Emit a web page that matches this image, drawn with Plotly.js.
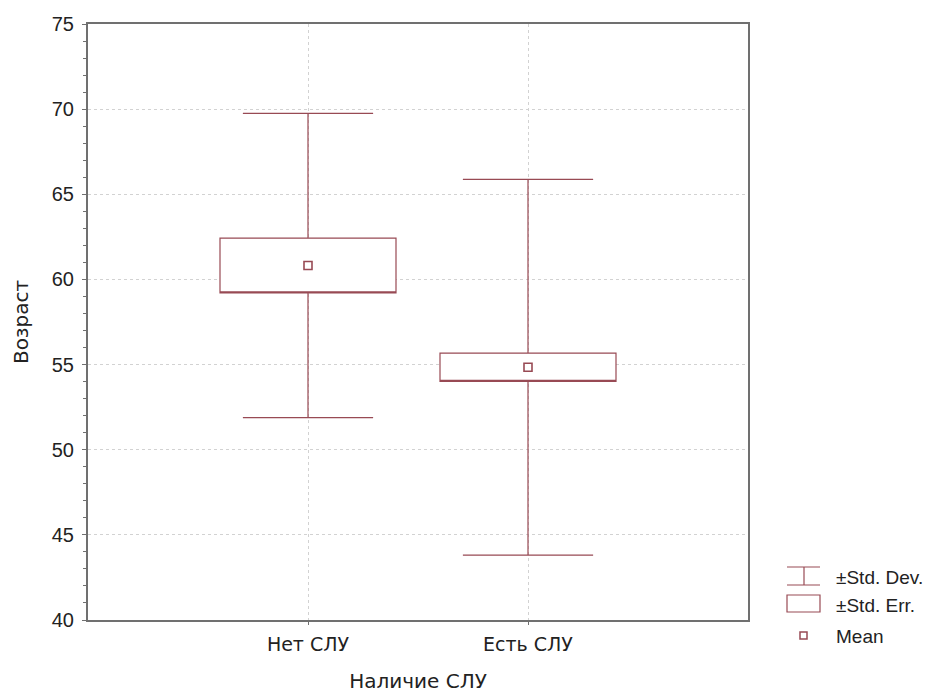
<!DOCTYPE html>
<html>
<head>
<meta charset="utf-8">
<script src="https://cdn.plot.ly/plotly-3.0.1.min.js"></script>
<style>html,body{margin:0;padding:0;background:#fff;}#chart{width:930px;height:693px;}</style>
</head>
<body>
<div id="chart"></div>
<script>
const categories = ["Нет СЛУ", "Есть СЛУ"];
const means = [60.82, 54.84];
const stdErr = [1.61, 0.83];
const stdDev = [8.93, 11.03];
const legendLabels = ["±Std. Dev.", "±Std. Err.", "Mean"];

const col = "#984a54";
const xs = categories.map((c, i) => i);
const q1 = means.map((m, i) => m - stdErr[i]);
const q3 = means.map((m, i) => m + stdErr[i]);
const lo = means.map((m, i) => m - stdDev[i]);
const hi = means.map((m, i) => m + stdDev[i]);

const FONT = "Liberation Sans, Arial, sans-serif";
const CYR = "DejaVu Sans, Liberation Sans, sans-serif";

const traces = [
  {
    type: "box",
    x: xs,
    q1: q1, median: q1, q3: q3,
    lowerfence: lo, upperfence: hi,
    width: 0.8,
    whiskerwidth: 0.74,
    fillcolor: "#ffffff",
    line: {color: col, width: 1.2},
    boxpoints: false,
    hoverinfo: "skip",
    showlegend: false
  },
  {
    type: "scatter",
    mode: "markers",
    x: xs,
    y: means,
    marker: {symbol: "square-open", size: 8, color: col, line: {width: 1.6, color: col}},
    hoverinfo: "skip",
    showlegend: false
  }
];

// plot area in pixels
const L = 88, R = 748, T = 24, B = 620;
const W = 930, H = 693;
const px = v => (v - L) / (R - L);
const py = v => (B - v) / (B - T);

const shapes = [
  // Std. Dev. icon
  {type: "line", xref: "paper", yref: "paper", x0: px(787), x1: px(820), y0: py(567), y1: py(567), line: {color: col, width: 1.2}},
  {type: "line", xref: "paper", yref: "paper", x0: px(787), x1: px(820), y0: py(585), y1: py(585), line: {color: col, width: 1.2}},
  {type: "line", xref: "paper", yref: "paper", x0: px(804), x1: px(804), y0: py(567), y1: py(585), line: {color: col, width: 1.2}},
  // Std. Err. icon
  {type: "rect", xref: "paper", yref: "paper", x0: px(787), x1: px(820), y0: py(595), y1: py(612), line: {color: col, width: 1.2}, fillcolor: "rgba(0,0,0,0)"},
  // Mean icon
  {type: "rect", xref: "paper", yref: "paper", x0: px(800), x1: px(807), y0: py(632), y1: py(639), line: {color: col, width: 1.5}, fillcolor: "rgba(0,0,0,0)"}
];

const legendY = [577, 605, 636];
const annotations = legendLabels.map((t, i) => ({
  xref: "paper", yref: "paper", x: px(834), y: py(legendY[i]),
  xanchor: "left", yanchor: "middle", showarrow: false,
  text: t, font: {family: FONT, size: 19, color: "#222"}
}));

const layout = {
  width: W, height: H,
  margin: {l: L, r: W - R, t: T, b: H - B, pad: 0},
  paper_bgcolor: "#fff", plot_bgcolor: "#fff",
  showlegend: false,
  font: {family: FONT, size: 19, color: "#222"},
  xaxis: {
    range: [-1, 2],
    tickvals: xs, ticktext: categories,
    showgrid: true, gridcolor: "#d2d2d2", griddash: "dot", gridwidth: 1,
    zeroline: false,
    showline: true, linecolor: "#707070", linewidth: 2, mirror: true,
    ticks: "outside", ticklen: 3, tickcolor: "#707070",
    tickfont: {family: CYR, size: 19, color: "#222"},
    ticklabelstandoff: 3,
    title: {text: "Наличие СЛУ", font: {family: CYR, size: 20, color: "#222"}, standoff: 22}
  },
  yaxis: {
    range: [40, 75],
    tick0: 40, dtick: 5,
    showgrid: true, gridcolor: "#d2d2d2", griddash: "dot", gridwidth: 1,
    zeroline: false,
    showline: true, linecolor: "#707070", linewidth: 2, mirror: true,
    ticks: "outside", ticklen: 4, tickcolor: "#707070",
    minor: {dtick: 1, ticks: "outside", ticklen: 3, tickcolor: "#707070", showgrid: false},
    tickfont: {family: FONT, size: 20, color: "#222"},
    ticklabelstandoff: 4,
    title: {text: "Возраст", font: {family: CYR, size: 20, color: "#222"}, standoff: 18}
  },
  shapes: shapes,
  annotations: annotations
};

Plotly.newPlot("chart", traces, layout, {displayModeBar: false, staticPlot: true});
</script>
</body>
</html>
